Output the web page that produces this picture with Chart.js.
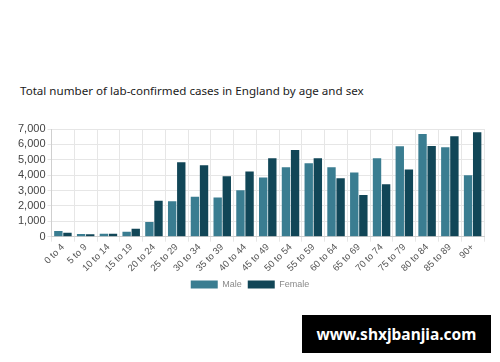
<!DOCTYPE html>
<html>
<head>
<meta charset="utf-8">
<script src="https://cdn.jsdelivr.net/npm/chart.js@4"></script>
<style>
html,body{margin:0;padding:0;background:#fff;width:500px;height:362px;overflow:hidden;}
#title{position:absolute;left:20px;top:83px;font-family:"Noto Sans",sans-serif;font-size:11.6px;color:#1b1b1b;white-space:nowrap;}
#wrap{position:absolute;left:0;top:112px;width:500px;height:187px;}
#wm{position:absolute;left:302px;top:315px;width:189px;height:38px;background:#000;color:#fff;font-family:"Noto Sans",sans-serif;font-weight:bold;font-size:15.5px;line-height:38px;text-align:center;}
</style>
</head>
<body>
<div id="title">Total number of lab-confirmed cases in England by age and sex</div>
<div id="wrap"><canvas id="c"></canvas></div>
<div id="wm">www.shxjbanjia.com</div>
<script>
const categories = ["0 to 4","5 to 9","10 to 14","15 to 19","20 to 24","25 to 29","30 to 34","35 to 39","40 to 44","45 to 49","50 to 54","55 to 59","60 to 64","65 to 69","70 to 74","75 to 79","80 to 84","85 to 89","90+"];
const maleValues = [370,170,195,325,955,2300,2600,2540,3015,3840,4510,4770,4510,4165,5100,5880,6680,5815,3990];
const femaleValues = [260,150,195,520,2340,4840,4640,3930,4230,5100,5640,5100,3800,2710,3405,4360,5900,6530,6790];
const yTicks = [0,1000,2000,3000,4000,5000,6000,7000];

new Chart(document.getElementById('c'), {
  type: 'bar',
  data: {
    labels: categories,
    datasets: [
      {label: 'Male', data: maleValues, backgroundColor: '#3a7d91', borderWidth: 0, barPercentage: 0.92, categoryPercentage: 0.8},
      {label: 'Female', data: femaleValues, backgroundColor: '#114657', borderWidth: 0, barPercentage: 0.92, categoryPercentage: 0.8}
    ]
  },
  options: {
    responsive: true,
    maintainAspectRatio: false,
    animation: false,
    layout: {padding: {left: 16, right: 16, top: 17, bottom: 0}},
    plugins: {
      legend: {
        position: 'bottom',
        labels: {boxWidth: 27, boxHeight: 8, color: '#8a8a8a', font: {family: 'Liberation Sans', size: 9}, padding: 6}
      },
      tooltip: {enabled: false}
    },
    scales: {
      x: {
        grid: {color: '#e6e6e6', tickLength: 5},
        border: {color: '#cfcfcf'},
        ticks: {color: '#555', font: {family: 'Liberation Sans', size: 9.5}, maxRotation: 45, minRotation: 45, padding: 0, autoSkip: false}
      },
      y: {
        min: 0, max: 7000,
        afterBuildTicks: (ax) => { ax.ticks = yTicks.map(v => ({value: v})); },
        grid: {color: '#e6e6e6', tickLength: 4},
        border: {color: '#cfcfcf'},
        ticks: {color: '#444', font: {family: 'Liberation Sans', size: 11}, padding: 2, autoSkip: false,
          callback: (v) => v.toLocaleString('en-US')}
      }
    }
  }
});
</script>
</body>
</html>
